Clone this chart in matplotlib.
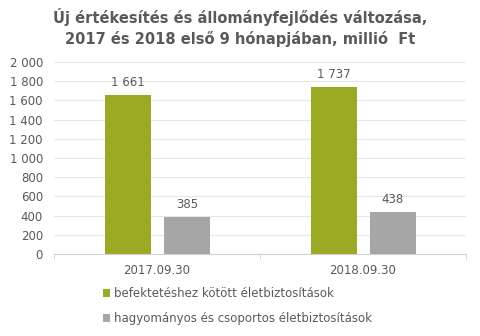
import matplotlib
matplotlib.use("Agg")
import matplotlib.pyplot as plt
import numpy as np

categories = ["2017.09.30", "2018.09.30"]
series_names = ["befektetéshez kötött életbiztosítások",
                "hagyományos és csoportos életbiztosítások"]
values_unit = [1661, 1737]
values_trad = [385, 438]
yticks = [0, 200, 400, 600, 800, 1000, 1200, 1400, 1600, 1800, 2000]

green = "#9BAA25"
gray = "#A6A6A6"
txt = "#595959"

def fmt(v):
    return f"{v:,}".replace(",", " ")

fig = plt.figure(figsize=(4.8, 3.36), dpi=100)
ax = fig.add_axes([0.1125, 0.244, 0.858, 0.5715])

x = np.arange(len(categories))
w = 0.223
b1 = ax.bar(x - 0.142, values_unit, w, color=green, label=series_names[0], zorder=3)
b2 = ax.bar(x + 0.146, values_trad, w, color=gray, label=series_names[1], zorder=3)

for bars, vals in ((b1, values_unit), (b2, values_trad)):
    for r, v in zip(bars, vals):
        ax.text(r.get_x() + r.get_width() / 2, v + 60, fmt(v), ha="center",
                va="bottom", fontsize=8.5, color=txt)

ax.set_xlim(-0.5, 1.5)
ax.set_ylim(0, 2000)
ax.set_yticks(yticks)
ax.set_yticklabels([fmt(v) for v in yticks], fontsize=8.5, color=txt)
ax.set_xticks(x)
ax.set_xticklabels(categories, fontsize=8.5, color=txt)
ax.tick_params(axis="y", length=0, pad=8)
ax.tick_params(axis="x", length=0, pad=7)
ax.set_xticks([-0.5, 0.5, 1.5], minor=True)
ax.tick_params(axis="x", which="minor", length=3.5, color="#D0D0D0", direction="out")
ax.grid(axis="y", color="#E6E6E6", linewidth=0.8, zorder=0)
for s in ["top", "right", "left"]:
    ax.spines[s].set_visible(False)
ax.spines["bottom"].set_color("#D0D0D0")

fig.text(0.5, 0.975, "Új értékesítés és állományfejlődés változása,\n2017 és 2018 első 9 hónapjában, millió  Ft",
         ha="center", va="top", fontsize=10.5, fontweight="bold", color=txt, linespacing=1.35)

leg = fig.legend(handles=[b1, b2], labels=series_names, loc="upper left",
                 bbox_to_anchor=(0.215, 0.145), frameon=False, fontsize=8.5,
                 handlelength=0.6, handleheight=0.6, handletextpad=0.3,
                 labelspacing=1.0, borderpad=0, borderaxespad=0)
for t in leg.get_texts():
    t.set_color(txt)

fig.savefig("out.png", dpi=100)
